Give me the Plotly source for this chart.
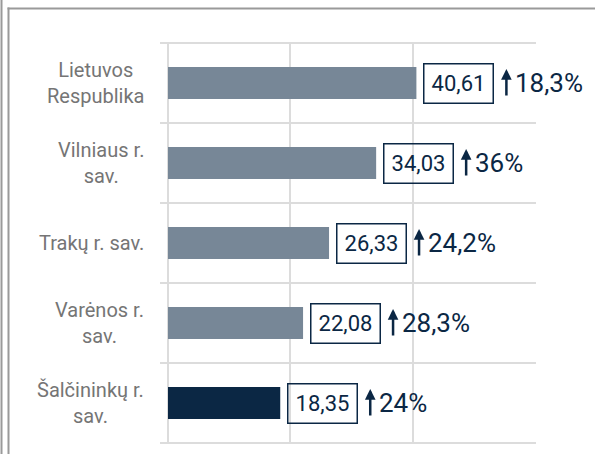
import plotly.graph_objects as go

categories = ["Lietuvos<br>Respublika", "Vilniaus r.<br>sav.", "Trakų r. sav.", "Varėnos r.<br>sav.", "Šalčininkų r.<br>sav."]
values = [40.61, 34.03, 26.33, 22.08, 18.35]
value_labels = ["40,61", "34,03", "26,33", "22,08", "18,35"]
change_labels = ["18,3%", "36%", "24,2%", "28,3%", "24%"]
bar_colors = ["#778797", "#778797", "#778797", "#778797", "#0B2744"]

W, H = 595, 454
L, R, T, B = 168, 60, 43, 11
PW, PH = W - L - R, H - T - B

def px(xp):
    return (xp - L) / PW

def py(yp):
    return (H - B - yp) / PH

NAVY = "#0B2744"
GRID = "#dcdcdc"
FONT = "Roboto"
n = len(categories)

fig = go.Figure()
fig.add_trace(go.Bar(
    x=values, y=categories, orientation="h",
    marker=dict(color=bar_colors, line=dict(width=0)),
    width=0.4, hoverinfo="skip",
))

annotations = []
for cat, v, vl, cl in zip(categories, values, value_labels, change_labels):
    annotations.append(dict(
        x=v, y=cat, xref="x", yref="y", text=vl, showarrow=False,
        xanchor="left", yanchor="middle", xshift=7,
        width=58, height=28, borderpad=5, borderwidth=1.5, bordercolor=NAVY,
        font=dict(family=FONT, size=22, color=NAVY),
    ))
    annotations.append(dict(
        x=v, y=cat, xref="x", yref="y", text="", showarrow=True,
        ax=0, ay=28, xshift=90, yshift=14, standoff=0,
        arrowhead=2, arrowsize=0.85, arrowwidth=2.5, arrowcolor=NAVY,
    ))
    annotations.append(dict(
        x=v, y=cat, xref="x", yref="y", text=cl, showarrow=False,
        xanchor="left", yanchor="middle", xshift=97,
        font=dict(family=FONT, size=26, color=NAVY),
    ))
    annotations.append(dict(
        x=px(146), y=cat, xref="paper", yref="y", text=cat, showarrow=False,
        xanchor="right", yanchor="middle", align="center",
        font=dict(family=FONT, size=20, color="#757575"),
    ))

line_style = dict(color="#9a9a9a", width=2)
shapes = [
    dict(type="line", xref="paper", yref="paper", x0=px(1.5), x1=px(1.5), y0=py(0), y1=py(H), line=line_style),
    dict(type="line", xref="paper", yref="paper", x0=px(8.5), x1=px(8.5), y0=py(7.5), y1=py(H), line=line_style),
    dict(type="line", xref="paper", yref="paper", x0=px(7.5), x1=px(W), y0=py(8.5), y1=py(8.5), line=line_style),
]
# category boundary separators, drawn as thin filled rectangles
half = 1.0 / PH
for i in range(n + 1):
    yb = 1 - i / n
    shapes.append(dict(
        type="rect", xref="paper", yref="paper", x0=px(160), x1=1 + 1.0 / PW,
        y0=yb - half, y1=yb + half, layer="above",
        fillcolor=GRID, line=dict(width=0),
    ))

fig.update_layout(
    width=W, height=H,
    margin=dict(l=L, r=R, t=T, b=B, pad=0),
    paper_bgcolor="white", plot_bgcolor="rgba(0,0,0,0)",
    showlegend=False,
    annotations=annotations,
    shapes=shapes,
    xaxis=dict(range=[0, 60], dtick=20, showticklabels=False, showgrid=True,
               gridcolor=GRID, gridwidth=2, zeroline=True, zerolinecolor=GRID,
               zerolinewidth=2, showline=False, fixedrange=True, automargin=False),
    yaxis=dict(autorange="reversed", showticklabels=False, showgrid=False,
               ticks="", showline=False, zeroline=False,
               fixedrange=True, automargin=False),
)

fig.write_html("out.html", config={"displayModeBar": False},
               post_script="document.body.style.margin='0';document.body.style.overflow='hidden';")
